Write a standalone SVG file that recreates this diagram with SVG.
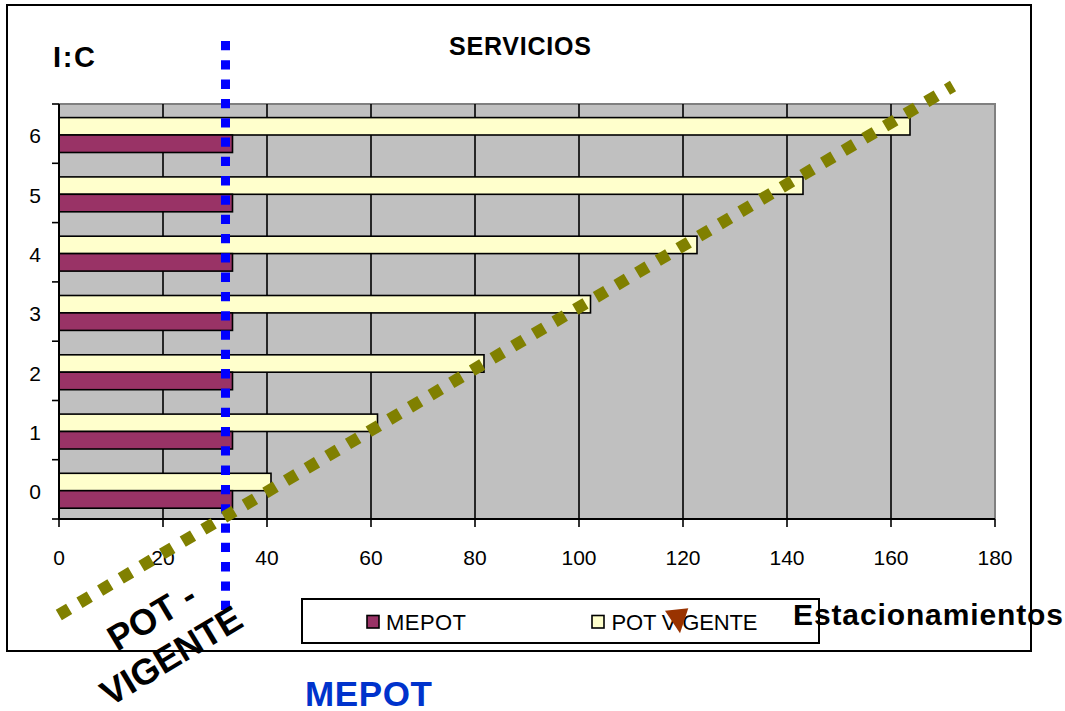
<svg xmlns="http://www.w3.org/2000/svg" width="1065" height="711" viewBox="0 0 1065 711">
  <style>
    .lbl { font-family: "Liberation Sans", Arial, sans-serif; font-size: 21px; fill: #000; }
    .leg { font-family: "Liberation Sans", Arial, sans-serif; font-size: 22px; fill: #000; }
    .bold { font-family: "Liberation Sans", Arial, sans-serif; font-weight: bold; fill: #000; }
    .grid { stroke: #000; stroke-width: 1.6; }
    .tick { stroke: #000; stroke-width: 1.6; }
    .pot { fill: #FFFFCC; stroke: #000; stroke-width: 1.6; }
    .mepot { fill: #993366; stroke: #000; stroke-width: 1.6; }
  </style>

  <rect width="1065" height="711" fill="#fff"/>

  <!-- chart frame -->
  <rect id="frame" x="7" y="5" width="1024" height="646" fill="#fff" stroke="#000" stroke-width="2"/>

  <!-- plot area -->
  <g id="plot-area">
    <rect x="59" y="104" width="936" height="415" fill="#C0C0C0"/>
    <path d="M59 104 H995 V519" fill="none" stroke="#808080" stroke-width="2"/>
    <g class="grid">
      <line x1="163" y1="104" x2="163" y2="519"/>
      <line x1="267" y1="104" x2="267" y2="519"/>
      <line x1="371" y1="104" x2="371" y2="519"/>
      <line x1="475" y1="104" x2="475" y2="519"/>
      <line x1="579" y1="104" x2="579" y2="519"/>
      <line x1="683" y1="104" x2="683" y2="519"/>
      <line x1="787" y1="104" x2="787" y2="519"/>
      <line x1="891" y1="104" x2="891" y2="519"/>
    </g>
  </g>

  <!-- bars: POT VIGENTE (yellow) and MEPOT (purple) per I:C level -->
  <g id="bars">
    <g id="ic-6"><rect class="pot" x="59" y="117.6" width="851" height="17.4"/><rect class="mepot" x="59" y="135" width="173.5" height="17.5"/></g>
    <g id="ic-5"><rect class="pot" x="59" y="176.9" width="744" height="17.4"/><rect class="mepot" x="59" y="194.3" width="173.5" height="17.5"/></g>
    <g id="ic-4"><rect class="pot" x="59" y="236.2" width="638" height="17.4"/><rect class="mepot" x="59" y="253.6" width="173.5" height="17.5"/></g>
    <g id="ic-3"><rect class="pot" x="59" y="295.5" width="531.5" height="17.4"/><rect class="mepot" x="59" y="312.9" width="173.5" height="17.5"/></g>
    <g id="ic-2"><rect class="pot" x="59" y="354.8" width="425" height="17.4"/><rect class="mepot" x="59" y="372.2" width="173.5" height="17.5"/></g>
    <g id="ic-1"><rect class="pot" x="59" y="414.1" width="318.5" height="17.4"/><rect class="mepot" x="59" y="431.5" width="173.5" height="17.5"/></g>
    <g id="ic-0"><rect class="pot" x="59" y="473.3" width="212" height="17.4"/><rect class="mepot" x="59" y="490.7" width="173.5" height="17.5"/></g>
  </g>

  <!-- axes -->
  <g id="axes">
    <line x1="59" y1="104" x2="59" y2="520" stroke="#000" stroke-width="2"/>
    <line x1="58" y1="519" x2="995" y2="519" stroke="#000" stroke-width="2"/>
    <g class="tick">
      <line x1="52" y1="104" x2="59" y2="104"/>
      <line x1="52" y1="163.3" x2="59" y2="163.3"/>
      <line x1="52" y1="222.6" x2="59" y2="222.6"/>
      <line x1="52" y1="281.9" x2="59" y2="281.9"/>
      <line x1="52" y1="341.2" x2="59" y2="341.2"/>
      <line x1="52" y1="400.5" x2="59" y2="400.5"/>
      <line x1="52" y1="459.7" x2="59" y2="459.7"/>
      <line x1="52" y1="519" x2="59" y2="519"/>
      <line x1="59" y1="519" x2="59" y2="527"/>
      <line x1="163" y1="519" x2="163" y2="527"/>
      <line x1="267" y1="519" x2="267" y2="527"/>
      <line x1="371" y1="519" x2="371" y2="527"/>
      <line x1="475" y1="519" x2="475" y2="527"/>
      <line x1="579" y1="519" x2="579" y2="527"/>
      <line x1="683" y1="519" x2="683" y2="527"/>
      <line x1="787" y1="519" x2="787" y2="527"/>
      <line x1="891" y1="519" x2="891" y2="527"/>
      <line x1="995" y1="519" x2="995" y2="527"/>
    </g>
    <g class="lbl" text-anchor="middle">
      <text x="35" y="143.3">6</text>
      <text x="35" y="202.6">5</text>
      <text x="35" y="261.9">4</text>
      <text x="35" y="321.2">3</text>
      <text x="35" y="380.5">2</text>
      <text x="35" y="439.8">1</text>
      <text x="35" y="499.1">0</text>
      <text x="59" y="565">0</text>
      <text x="163" y="565">20</text>
      <text x="267" y="565">40</text>
      <text x="371" y="565">60</text>
      <text x="475" y="565">80</text>
      <text x="579" y="565">100</text>
      <text x="683" y="565">120</text>
      <text x="787" y="565">140</text>
      <text x="891" y="565">160</text>
      <text x="995" y="565">180</text>
    </g>
  </g>

  <!-- titles -->
  <text id="title" class="bold" x="449" y="55" font-size="25" textLength="142">SERVICIOS</text>
  <text id="y-title" class="bold" x="53" y="67" font-size="29" textLength="42">I:C</text>

  <!-- legend -->
  <g id="legend">
    <rect x="302" y="599" width="517" height="44" fill="#fff" stroke="#000" stroke-width="2"/>
    <rect class="mepot" x="367" y="615.5" width="12" height="12.5"/>
    <text class="leg" x="386" y="630" textLength="80">MEPOT</text>
    <rect class="pot" x="592" y="615.5" width="12" height="12.5"/>
    <text class="leg" x="611.5" y="630" textLength="146">POT VIGENTE</text>
  </g>

  <text id="x-title" class="bold" x="793" y="625" font-size="30" textLength="270">Estacionamientos</text>

  <!-- reference lines -->
  <g id="connectors">
    <line id="mepot-line" x1="225.5" y1="41" x2="225.5" y2="611" stroke="#0000FF" stroke-width="9" stroke-dasharray="9.3 10"/>
    <line id="pot-line" x1="58.8" y1="615" x2="953" y2="86" stroke="#808000" stroke-width="12" stroke-dasharray="12 12"/>
    <polygon id="marker-tri" points="665,610.7 688.3,608.3 680,633.3" fill="#993300"/>
  </g>

  <!-- line labels -->
  <g id="label-pot">
    <text class="bold" font-size="36" transform="translate(117,652) rotate(-31)">POT -</text>
    <text class="bold" font-size="36" transform="translate(110,707) rotate(-31)">VIGENTE</text>
  </g>
  <text id="label-mepot" class="bold" x="305" y="705.5" font-size="35" textLength="127" style="fill:#0033CC">MEPOT</text>
</svg>
